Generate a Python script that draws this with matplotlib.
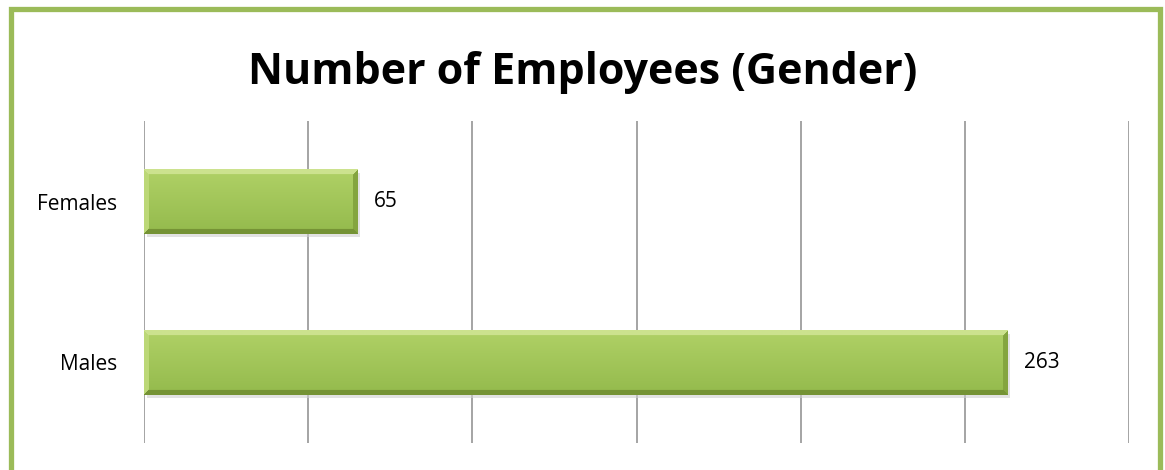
import numpy as np
import matplotlib
matplotlib.use("Agg")
from matplotlib import pyplot as plt, patches

categories = ["Males", "Females"]
values = [263, 65]
x_max = 300
x_step = 50

plt.rcParams['font.family'] = ['Open Sans', 'DejaVu Sans']


def bevel_image(n_x, n_y, b=5):
    # colour field for one bar: face gradient plus bevelled edges
    top = np.array([0.80, 0.89, 0.56])
    left = np.array([0.74, 0.85, 0.47])
    right = np.array([0.52, 0.65, 0.25])
    bottom = np.array([0.46, 0.58, 0.21])
    face_top = np.array([0.69, 0.82, 0.40])
    face_bot = np.array([0.58, 0.73, 0.30])
    img = np.zeros((n_y, n_x, 3))
    for i in range(n_y):
        t = i / (n_y - 1)
        face = face_top * (1 - t) + face_bot * t
        for j in range(n_x):
            d = [i, n_y - 1 - i, j, n_x - 1 - j]
            k = int(np.argmin(d))
            if d[k] < b:
                img[i, j] = [top, bottom, left, right][k]
            else:
                img[i, j] = face
    return img


def main():
    fig = plt.figure(figsize=(11.65, 4.7), dpi=100)
    fig.patch.set_facecolor("white")
    fig.add_artist(patches.Rectangle((10.5 / 1165, -0.1), 1149 / 1165, 1.1 - 8.5 / 470,
                                     transform=fig.transFigure, fill=False,
                                     edgecolor="#9bbb59", linewidth=3.8))

    ax = fig.add_axes([144 / 1165, 1 - 443 / 470, 985 / 1165, 322 / 470])
    ypos = np.arange(len(categories))
    h = 0.40
    ax.set_xlim(0, x_max)
    ax.set_ylim(-0.5, len(categories) - 0.5)

    for y, v in zip(ypos, values):
        # soft shadow under the bar
        ax.add_patch(patches.Rectangle((0.8, y - h / 2 - 0.02), v, h,
                                       color="#cfcfcf", alpha=0.6, zorder=2, linewidth=0))
        img = bevel_image(int(v * 3.3), 64)
        ax.imshow(img, extent=(0, v, y - h / 2, y + h / 2), aspect="auto",
                  interpolation="bilinear", zorder=3)
        ax.text(v + 5, y, str(v), va="center", ha="left", fontsize=15)

    ax.set_xticks(np.arange(0, x_max + 1, x_step))
    ax.set_xticklabels([])
    ax.set_yticks(ypos)
    ax.set_yticklabels(categories, fontsize=15)
    ax.tick_params(length=0, pad=19)
    ax.grid(axis="x", color="#8c8c8c", linewidth=1.1)
    ax.set_axisbelow(True)
    for s in ax.spines.values():
        s.set_visible(False)
    ax.set_xlim(0, x_max)
    ax.set_ylim(-0.5, len(categories) - 0.5)

    fig.text(0.5, 1 - 72 / 470, "Number of Employees (Gender)", ha="center",
             va="center", fontsize=31, fontweight="bold")

    fig.savefig("out.png", dpi=100)


if __name__ == "__main__":
    main()
